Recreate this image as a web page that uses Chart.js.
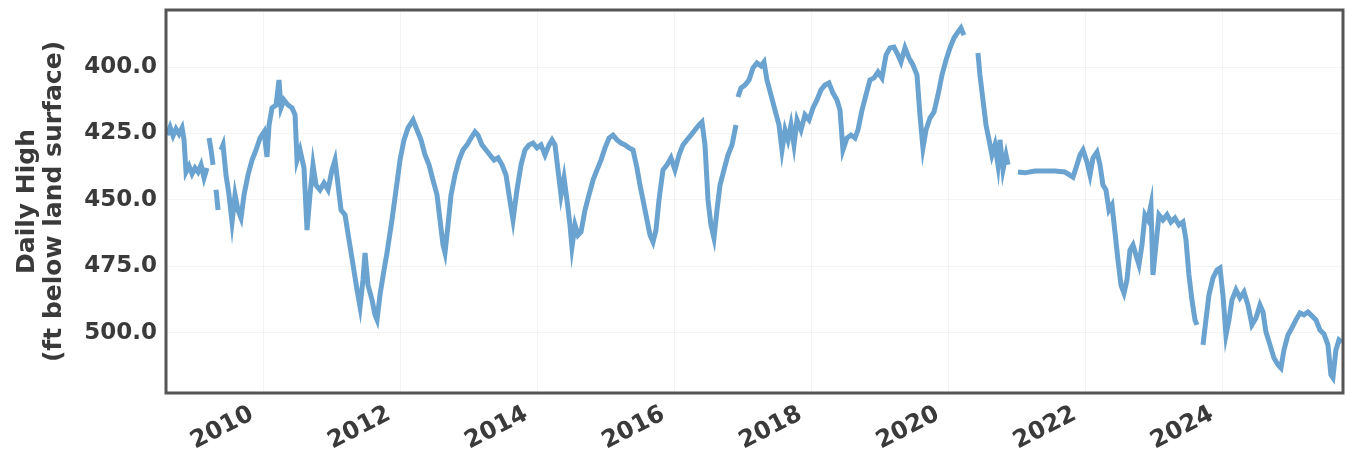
<!DOCTYPE html>
<html>
<head>
<meta charset="utf-8">
<script src="https://cdn.jsdelivr.net/npm/chart.js@4.4.1/dist/chart.umd.min.js"></script>
<style>
  html, body { margin: 0; padding: 0; background: #fff; }
  #wrap { width: 1346px; height: 458px; position: relative; }
</style>
</head>
<body>
<div id="wrap"><canvas id="levelChart" width="1346" height="458"></canvas></div>
<script>
// decimal years and daily-high depth (ft below land surface); null = gap in record
const years = [
  2008.600, 2008.644, 2008.688, 2008.731, 2008.775, 2008.819, 2008.848, 2008.877, 2008.921, 2008.965,
  2009.008, 2009.052, 2009.096, 2009.140, 2009.183, 2009.198,
  2009.213, 2009.242, 2009.271, 2009.293,
  2009.315, 2009.344, 2009.366,
  2009.388, 2009.417, 2009.460, 2009.504, 2009.548, 2009.592, 2009.635, 2009.679, 2009.723, 2009.781,
  2009.840, 2009.898, 2009.956, 2010.015, 2010.058, 2010.088, 2010.131, 2010.190, 2010.233, 2010.263,
  2010.306, 2010.365, 2010.423, 2010.467, 2010.496, 2010.540, 2010.598, 2010.642, 2010.685, 2010.729,
  2010.773, 2010.831, 2010.890, 2010.948, 2011.006, 2011.050, 2011.094, 2011.138, 2011.196, 2011.254,
  2011.313, 2011.371, 2011.415, 2011.458, 2011.488, 2011.531, 2011.590, 2011.633, 2011.663, 2011.706,
  2011.765, 2011.808, 2011.881, 2011.940, 2011.998, 2012.056, 2012.115, 2012.188, 2012.246, 2012.304,
  2012.363, 2012.421, 2012.479, 2012.538, 2012.581, 2012.625, 2012.654, 2012.698, 2012.742, 2012.800,
  2012.858, 2012.917, 2012.975, 2013.033, 2013.092, 2013.135, 2013.194, 2013.252, 2013.310, 2013.369,
  2013.427, 2013.486, 2013.544, 2013.588, 2013.646, 2013.704, 2013.763, 2013.821, 2013.879, 2013.938,
  2013.996, 2014.054, 2014.113, 2014.171, 2014.215, 2014.258, 2014.302, 2014.346, 2014.390, 2014.433,
  2014.477, 2014.506, 2014.550, 2014.594, 2014.638, 2014.696, 2014.754, 2014.813, 2014.871, 2014.929,
  2014.988, 2015.046, 2015.104, 2015.163, 2015.221, 2015.279, 2015.338, 2015.396, 2015.454, 2015.498,
  2015.542, 2015.600, 2015.644, 2015.688, 2015.731, 2015.775, 2015.833, 2015.892, 2015.950, 2016.008,
  2016.067, 2016.125, 2016.183, 2016.242, 2016.300, 2016.358, 2016.402, 2016.446, 2016.490, 2016.533,
  2016.577, 2016.621, 2016.665, 2016.723, 2016.781, 2016.840, 2016.898, 2016.912,
  2016.927, 2016.971, 2017.029, 2017.088, 2017.146, 2017.204, 2017.263, 2017.306, 2017.350, 2017.408,
  2017.467, 2017.525, 2017.569, 2017.613, 2017.656, 2017.700, 2017.744, 2017.788, 2017.846, 2017.904,
  2017.963, 2018.021, 2018.079, 2018.138, 2018.196, 2018.254, 2018.313, 2018.371, 2018.415, 2018.458,
  2018.517, 2018.575, 2018.633, 2018.677, 2018.736, 2018.794, 2018.852, 2018.911, 2018.969, 2019.027,
  2019.086, 2019.144, 2019.202, 2019.261, 2019.304, 2019.363, 2019.421, 2019.479, 2019.538, 2019.581,
  2019.625, 2019.669, 2019.727, 2019.786, 2019.844, 2019.902, 2019.961, 2020.019, 2020.077, 2020.136,
  2020.179, 2020.223, 2020.320,
  2020.427, 2020.456, 2020.500, 2020.544, 2020.588, 2020.631, 2020.675, 2020.719, 2020.748, 2020.792,
  2020.836, 2020.865, 2020.940,
  2021.010, 2021.113, 2021.258, 2021.405, 2021.550, 2021.696, 2021.813, 2021.871, 2021.915, 2021.959,
  2022.017, 2022.061, 2022.105, 2022.163, 2022.207, 2022.250, 2022.294, 2022.338, 2022.382, 2022.425,
  2022.469, 2022.513, 2022.557, 2022.600, 2022.644, 2022.688, 2022.731, 2022.775, 2022.819, 2022.863,
  2022.906, 2022.950, 2022.979, 2023.023, 2023.067, 2023.125, 2023.184, 2023.242, 2023.300, 2023.359,
  2023.417, 2023.461, 2023.504, 2023.548, 2023.592, 2023.621, 2023.665,
  2023.709, 2023.752, 2023.796, 2023.855, 2023.913, 2023.957, 2024.000, 2024.044, 2024.088, 2024.132,
  2024.190, 2024.248, 2024.307, 2024.365, 2024.423, 2024.482, 2024.540, 2024.584, 2024.627, 2024.686,
  2024.744, 2024.802, 2024.846, 2024.890, 2024.948, 2025.006, 2025.065, 2025.123, 2025.181, 2025.240,
  2025.298, 2025.356, 2025.415, 2025.473, 2025.531, 2025.575, 2025.604, 2025.648, 2025.692, 2025.735,
];

const depthFt = [
  425.6, 422.6, 425.9, 423.3, 425.2, 422.9, 427.4, 439.5, 437.2, 440.2,
  438.0, 439.5, 436.8, 441.7, 438.0, null,
  426.7, 431.2, 436.8, null,
  446.2, 453.8, null,
  431.2, 429.3, 440.6, 448.1, 458.3, 448.1, 453.8, 456.8, 448.1, 440.6,
  435.0, 431.2, 426.7, 424.4, 433.8, 421.8, 415.4, 414.3, 404.9, 415.4,
  412.4, 414.3, 415.4, 418.0, 435.0, 431.2, 438.0, 461.3, 448.1, 436.8,
  444.4, 446.2, 443.6, 446.2, 438.7, 435.0, 444.4, 453.8, 455.6, 465.0,
  474.4, 483.8, 490.2, 480.1, 469.9, 482.0, 487.6, 493.2, 495.1, 485.7,
  476.3, 469.9, 457.5, 446.2, 435.0, 427.4, 422.9, 419.9, 423.7, 427.4,
  433.1, 436.8, 442.5, 448.1, 457.5, 466.9, 469.9, 459.4, 448.1, 440.6,
  435.0, 431.2, 429.3, 426.7, 424.4, 425.6, 429.3, 431.2, 433.1, 435.0,
  434.2, 436.8, 440.6, 448.1, 457.5, 446.2, 436.8, 431.2, 429.3, 428.6,
  430.4, 429.3, 433.1, 429.3, 427.4, 429.3, 438.7, 448.1, 441.7, 450.0,
  459.4, 467.7, 459.4, 463.2, 462.0, 453.8, 448.1, 442.5, 438.7, 435.0,
  430.4, 426.7, 425.6, 427.4, 428.6, 429.3, 430.4, 431.2, 438.0, 444.4,
  450.0, 457.5, 463.2, 465.8, 461.3, 450.0, 438.7, 436.8, 434.2, 438.7,
  433.1, 429.3, 427.4, 425.6, 423.7, 421.8, 420.7, 429.3, 450.0, 459.4,
  464.3, 453.8, 444.4, 438.7, 433.1, 429.3, 421.8, null,
  411.3, 407.9, 406.8, 404.9, 400.4, 398.5, 399.6, 398.1, 404.9, 410.5,
  416.2, 421.8, 431.2, 423.7, 427.4, 421.8, 429.3, 419.9, 423.7, 418.0,
  419.9, 415.4, 412.4, 408.6, 406.8, 406.0, 409.8, 412.4, 416.2, 431.2,
  426.7, 425.6, 426.7, 423.7, 416.2, 410.5, 404.9, 404.1, 401.9, 404.1,
  395.5, 392.8, 392.5, 395.5, 398.1, 392.8, 396.6, 399.2, 403.0, 418.0,
  430.4, 423.7, 419.2, 416.9, 410.5, 403.0, 397.4, 392.8, 389.1, 386.8,
  385.3, 388.0, null,
  394.7, 403.0, 412.4, 421.8, 427.4, 433.1, 429.3, 436.8, 427.4, 438.7,
  433.1, 436.8, null,
  439.5, 439.8, 439.1, 439.1, 439.1, 439.5, 441.4, 436.8, 433.1, 431.2,
  435.7, 440.6, 434.2, 432.0, 436.8, 444.4, 446.2, 453.8, 451.9, 462.0,
  472.6, 482.0, 485.0, 480.1, 468.8, 466.9, 470.7, 474.4, 466.9, 455.6,
  457.5, 451.9, 478.2, 466.9, 455.6, 457.5, 455.6, 458.3, 456.8, 459.4,
  458.3, 465.0, 478.2, 487.6, 495.1, 497.0, null,
  504.5, 495.1, 485.7, 479.3, 476.3, 475.6, 485.7, 500.8, 495.1, 487.6,
  483.8, 486.8, 484.6, 489.5, 497.0, 494.4, 489.5, 492.1, 499.6, 504.5,
  509.4, 512.0, 513.2, 506.4, 500.8, 498.1, 495.1, 492.5, 493.2, 492.1,
  493.6, 495.1, 498.9, 500.4, 504.5, 515.8, 516.9, 506.4, 502.6, 503.4,
];

const yTicks = [400, 425, 450, 475, 500];
const xTicks = [2010, 2012, 2014, 2016, 2018, 2020, 2022, 2024];
const xRange = [2008.585, 2025.751];
const yRange = [378.56, 522.6];

const frame = {
  id: "frame",
  afterDraw(chart) {
    const { ctx, chartArea: a } = chart;
    ctx.save();
    ctx.strokeStyle = "#555";
    ctx.lineWidth = 3;
    ctx.strokeRect(a.left, a.top, a.right - a.left, a.bottom - a.top);
    ctx.restore();
  },
};

function initLevelChart() {
  const canvas = document.getElementById("levelChart");
  if (!canvas || !window.Chart) return;

  const points = years.map((x, i) => ({ x, y: depthFt[i] }));

  new Chart(canvas.getContext("2d"), {
    type: "line",
    data: {
      datasets: [
        {
          data: points,
          borderColor: "#6aa3cf",
          borderWidth: 5,
          pointRadius: 0,
          tension: 0,
          spanGaps: false,
        },
      ],
    },
    options: {
      responsive: false,
      animation: false,
      layout: { padding: { top: 10, right: 3, left: 0, bottom: 0 } },
      plugins: { legend: { display: false }, tooltip: { enabled: false } },
      scales: {
        x: {
          type: "linear",
          min: xRange[0],
          max: xRange[1],
          afterBuildTicks: (scale) => {
            scale.ticks = xTicks.map((v) => ({ value: v }));
          },
          afterFit: (scale) => {
            scale.height = 65;
            scale.paddingLeft = 0;
            scale.paddingRight = 0;
          },
          grid: { color: "rgba(0,0,0,0.045)", drawTicks: false },
          border: { display: false },
          ticks: {
            autoSkip: false,
            minRotation: 27,
            maxRotation: 27,
            padding: 7,
            labelOffset: -11,
            color: "#3a3a3a",
            font: { family: "DejaVu Sans", size: 24, weight: "bold" },
            callback: (v) => String(v),
          },
        },
        y: {
          type: "linear",
          reverse: true,
          min: yRange[0],
          max: yRange[1],
          afterBuildTicks: (scale) => {
            scale.ticks = yTicks.map((v) => ({ value: v }));
          },
          afterFit: (scale) => {
            scale.width = 166;
            scale.paddingTop = 0;
            scale.paddingBottom = 0;
          },
          grid: { color: "rgba(0,0,0,0.045)", drawTicks: false },
          border: { display: false },
          ticks: {
            padding: 9,
            color: "#3a3a3a",
            font: { family: "DejaVu Sans", size: 23, weight: "bold" },
            callback: (v) => Number(v).toFixed(1),
          },
          title: {
            display: true,
            text: ["Daily High", "(ft below land surface)"],
            color: "#3a3a3a",
            font: { family: "DejaVu Sans", size: 25, weight: "bold", lineHeight: 1.08 },
            padding: { top: 14, bottom: 0 },
          },
        },
      },
    },
    plugins: [frame],
  });
}

document.addEventListener("DOMContentLoaded", () => {
  initLevelChart();
});
</script>
</body>
</html>
